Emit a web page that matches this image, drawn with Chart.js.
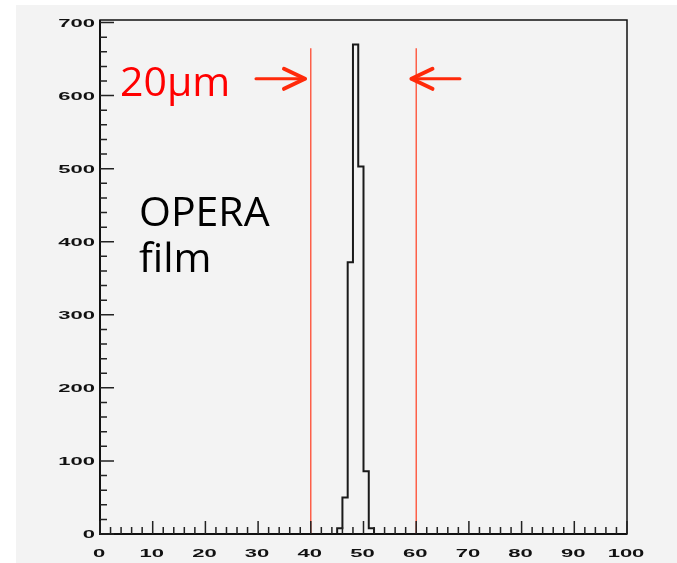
<!DOCTYPE html>
<html>
<head>
<meta charset="utf-8">
<script src="https://cdn.jsdelivr.net/npm/chart.js@4.4.1/dist/chart.umd.min.js"></script>
<style>
    html, body { margin: 0; padding: 0; background: #fff; }
    #wrap { width: 677px; height: 563px; }
</style>
</head>
<body>
<div id="wrap"><canvas id="hist"></canvas></div>
<script>
// histogram bins (low edge, width 1) and their counts
const binLow = [45, 46, 47, 48, 49, 50, 51];
const counts = [8, 50, 372, 670, 503, 86, 8];

// axis tick labels
const xTickLabels = ['0', '10', '20', '30', '40', '50', '60', '70', '80', '90', '100'];
const yTickLabels = ['0', '100', '200', '300', '400', '500', '600', '700'];

// red marker lines, and the arrows pointing at them
const markerX = [40, 60];
const markerTop = 665;
const arrowFrom = [29.6, 68.3];
const arrowTo = [38.9, 59.1];
const arrowY = 623;

// histogram outline as a step line over the full x range
const histPoints = [{ x: 0, y: 0 }]
    .concat(binLow.map((x, i) => ({ x: x, y: counts[i] })))
    .concat([{ x: 52, y: 0 }, { x: 100, y: 0 }]);

const markerSets = markerX.map(x => ({
    data: [{ x: x, y: 0 }, { x: x, y: markerTop }],
    borderColor: '#ff3a1e',
    borderWidth: 1.2,
    pointRadius: 0
}));

const rootFrame = {
    id: 'rootFrame',
    beforeDraw(chart) {
        const ctx = chart.ctx;
        ctx.save();
        ctx.fillStyle = '#f3f3f3';
        ctx.fillRect(16, 5, chart.width - 16, chart.height - 5);
        ctx.restore();
    },
    afterDraw(chart) {
        const ctx = chart.ctx;
        const a = chart.chartArea;
        const xs = chart.scales.x;
        const ys = chart.scales.y;
        ctx.save();

        // frame
        ctx.strokeStyle = '#111';
        ctx.lineWidth = 1.5;
        ctx.strokeRect(a.left, a.top, a.right - a.left, a.bottom - a.top);
        ctx.lineWidth = 2;
        ctx.beginPath();
        ctx.moveTo(a.left, a.top);
        ctx.lineTo(a.left, a.bottom);
        ctx.lineTo(a.right, a.bottom);
        ctx.stroke();

        // ticks pointing inward
        ctx.lineWidth = 1.5;
        ctx.strokeStyle = '#222';
        ctx.beginPath();
        for (let v = 0; v <= 100; v += 2) {
            const px = xs.getPixelForValue(v);
            const len = v % 10 === 0 ? 13 : 7;
            ctx.moveTo(px, a.bottom);
            ctx.lineTo(px, a.bottom - len);
        }
        for (let v = 0; v <= 700; v += 20) {
            const py = ys.getPixelForValue(v);
            const len = v % 100 === 0 ? 14 : 7;
            ctx.moveTo(a.left, py);
            ctx.lineTo(a.left + len, py);
        }
        ctx.stroke();

        // stretched bold tick labels
        ctx.fillStyle = '#111';
        ctx.font = 'bold 11px "Liberation Sans"';
        ctx.textBaseline = 'middle';
        ctx.textAlign = 'center';
        xTickLabels.forEach(t => {
            ctx.save();
            ctx.translate(xs.getPixelForValue(Number(t)) - 1, 554);
            ctx.scale(2, 1);
            ctx.fillText(t, 0, 0);
            ctx.restore();
        });
        ctx.textAlign = 'right';
        yTickLabels.forEach(t => {
            ctx.save();
            ctx.translate(95, ys.getPixelForValue(Number(t)) + 1);
            ctx.scale(2, 1);
            ctx.fillText(t, 0, 0);
            ctx.restore();
        });

        // arrows
        ctx.strokeStyle = '#ff2a0a';
        ctx.lineCap = 'round';
        ctx.lineJoin = 'round';
        arrowFrom.forEach((x0, i) => {
            const px0 = xs.getPixelForValue(x0);
            const px1 = xs.getPixelForValue(arrowTo[i]);
            const py = ys.getPixelForValue(arrowY);
            const dir = px1 > px0 ? 1 : -1;
            ctx.lineWidth = 3;
            ctx.beginPath();
            ctx.moveTo(px0, py);
            ctx.lineTo(px1, py);
            ctx.stroke();
            ctx.lineWidth = 4;
            ctx.beginPath();
            ctx.moveTo(px1 - dir * 21, py - 10);
            ctx.lineTo(px1, py);
            ctx.lineTo(px1 - dir * 21, py + 10);
            ctx.stroke();
        });

        // annotation text
        ctx.textAlign = 'left';
        ctx.textBaseline = 'alphabetic';
        ctx.font = '41px "Open Sans"';
        ctx.fillStyle = '#ff0000';
        ctx.fillText('20\u03bcm', 120, 96);
        ctx.fillStyle = '#000';
        ctx.fillText('OPERA', 139, 226);
        ctx.fillText('film', 139, 272);

        ctx.restore();
    }
};

new Chart(document.getElementById('hist'), {
    type: 'line',
    data: {
        datasets: [{
            data: histPoints,
            stepped: 'before',
            borderColor: '#1a1a1a',
            borderWidth: 2,
            pointRadius: 0
        }].concat(markerSets)
    },
    options: {
        responsive: true,
        maintainAspectRatio: false,
        animation: false,
        layout: { padding: { left: 100, right: 50, top: 20, bottom: 29 } },
        plugins: {
            legend: { display: false },
            tooltip: { enabled: false }
        },
        scales: {
            x: { type: 'linear', min: 0, max: 100, display: false },
            y: { type: 'linear', min: 0, max: 703.5, display: false }
        }
    },
    plugins: [rootFrame]
});
</script>
</body>
</html>
